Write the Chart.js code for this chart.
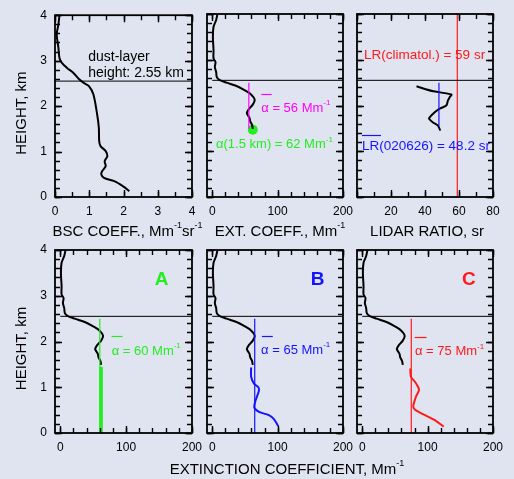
<!DOCTYPE html>
<html>
<head>
<meta charset="utf-8">
<script src="https://cdn.jsdelivr.net/npm/chart.js@4"></script>
<style>
  html, body { margin: 0; padding: 0; background: #e0e4f0; }
  #wrap { position: relative; width: 514px; height: 479px; }
  #wrap canvas { position: absolute; left: 0; top: 0; }
</style>
</head>
<body>
<div id="wrap">
  <canvas id="bsc" width="514" height="479"></canvas>
  <canvas id="ext" width="514" height="479"></canvas>
  <canvas id="lr" width="514" height="479"></canvas>
  <canvas id="caseA" width="514" height="479"></canvas>
  <canvas id="caseB" width="514" height="479"></canvas>
  <canvas id="caseC" width="514" height="479"></canvas>
</div>
<script>
// --- DATA: tick labels ---
const heightTicks = [0, 1, 2, 3, 4];
const bscTicks = [0, 1, 2, 3, 4];
const extTicks = [0, 100, 200];
const lrTicks = [20, 40, 60, 80];

// dust layer top, km
const layerTop = 2.55;

// backscatter coefficient profile (Mm-1 sr-1)
const bscHeight = [4.0, 3.8, 3.58, 3.28, 3.06, 2.95, 2.84, 2.73, 2.6, 2.51, 2.44, 2.26, 1.82, 1.52, 1.23, 1.12, 1.01, 0.9, 0.79, 0.68, 0.57, 0.5, 0.42, 0.35, 0.24, 0.13];
const bscValue = [0.13, 0.1, 0.05, 0.1, 0.13, 0.2, 0.35, 0.54, 0.69, 0.84, 0.99, 1.12, 1.23, 1.28, 1.29, 1.33, 1.48, 1.53, 1.45, 1.48, 1.38, 1.35, 1.43, 1.73, 1.98, 2.17];

// measured extinction profile (Mm-1), down to 1.5 km
const extHeight = [4.0, 3.87, 3.72, 3.5, 3.21, 3.03, 2.95, 2.84, 2.73, 2.62, 2.56, 2.5, 2.42, 2.33, 2.27, 2.2, 2.12, 2.02, 1.9, 1.83, 1.73, 1.66, 1.57, 1.49];
const extValue = [8, 6, 2, 1, 2, 2, 5, 4, 6, 7, 11, 22, 38, 50, 57, 62, 65, 62, 55, 53, 57, 58, 61, 62];

// lidar ratio profile (sr)
const lrHeight = [2.42, 2.31, 2.24, 2.18, 2.11, 2.0, 1.93, 1.85, 1.74, 1.71, 1.63, 1.56, 1.45];
const lrValue = [35, 45, 55.5, 54.5, 53.5, 52.5, 48.6, 45.7, 42.7, 42.4, 44.7, 47.6, 49];

// extrapolated extinction below 1.5 km, case B and case C (Mm-1)
const caseBHeight = [1.43, 1.23, 1.08, 1.0, 0.93, 0.82, 0.72, 0.61, 0.55, 0.46, 0.39, 0.31, 0.15];
const caseBValue = [59.5, 59.5, 64, 70.5, 71.5, 69, 66.5, 64.5, 64.5, 71.5, 86.5, 94, 101];
const caseCHeight = [1.41, 1.23, 1.12, 1.0, 0.93, 0.82, 0.68, 0.57, 0.5, 0.39, 0.28, 0.14];
const caseCValue = [73.5, 74.5, 80.6, 85.7, 86.7, 83, 79.6, 78, 81.6, 96, 111, 124.5];

// layer means and reference values
const alphaAt15 = 62;       // Mm-1 at 1.5 km
const meanAlphaTop = 56;
const meanAlphaA = 60;
const meanAlphaB = 65;
const meanAlphaC = 75;
const lrClimatol = 59;
const lrMeasured = 48.2;

const FONT = '"Liberation Sans", Arial, Helvetica, sans-serif';
const GREEN = '#22ee22', BLUE = '#1414ff', RED = '#ff1a1a', MAGENTA = '#ff00ff';

// --- helpers ---
function drawRich(ctx, x, y, parts, size, color, align, weight) {
  const sup = Math.round(size * 0.62);
  const fontOf = p => `${weight || 'normal'} ${p.sup ? sup : size}px ${FONT}`;
  let w = 0;
  parts.forEach(p => { ctx.font = fontOf(p); w += ctx.measureText(p.t).width; });
  let cx = align === 'center' ? x - w / 2 : x;
  ctx.fillStyle = color;
  ctx.textBaseline = 'middle';
  ctx.textAlign = 'left';
  parts.forEach(p => {
    ctx.font = fontOf(p);
    ctx.fillText(p.t, cx, p.sup ? y - size * 0.4 : y);
    cx += ctx.measureText(p.t).width;
  });
}

function curve(xs, ys, color, width) {
  return {
    data: xs.map((v, i) => ({ x: v, y: ys[i] })),
    borderColor: color, borderWidth: width,
    pointRadius: 0, showLine: true, tension: 0.3, fill: false
  };
}
function straight(xs, ys, color, width) {
  const d = curve(xs, ys, color, width);
  d.tension = 0;
  return d;
}

// tick spacing per panel (major, minor), looked up by canvas id
const tickSteps = {
  bsc: [1, 0.5], ext: [100, 20], lr: [20, 10],
  caseA: [100, 20], caseB: [100, 20], caseC: [100, 20]
};

// inward tick marks on all four sides + frame
const frameTicks = {
  id: 'frameTicks',
  afterDraw(chart) {
    const { ctx, chartArea: a, scales: { x, y } } = chart;
    const [xMajor, xMinor] = tickSteps[chart.canvas.id];
    ctx.save();
    ctx.strokeStyle = '#000';
    ctx.lineWidth = 1.4;
    const mark = (axis, step, len) => {
      const i0 = Math.ceil(axis.min / step - 1e-6), i1 = Math.floor(axis.max / step + 1e-6);
      for (let i = i0; i <= i1; i++) {
        const p = Math.round(axis.getPixelForValue(i * step)) + 0.5;
        ctx.beginPath();
        if (axis === x) {
          ctx.moveTo(p, a.bottom); ctx.lineTo(p, a.bottom - len);
          ctx.moveTo(p, a.top); ctx.lineTo(p, a.top + len);
        } else {
          ctx.moveTo(a.left, p); ctx.lineTo(a.left + len, p);
          ctx.moveTo(a.right, p); ctx.lineTo(a.right - len, p);
        }
        ctx.stroke();
      }
    };
    mark(x, xMinor, 5); mark(x, xMajor, 7);
    mark(y, 0.2, 5); mark(y, 1, 7);
    ctx.lineWidth = 1.8;
    ctx.strokeRect(a.left, a.top, a.width, a.height);
    ctx.restore();
  }
};

// text notes placed in data units, titles relative to the plot frame
const notes = {
  id: 'notes',
  afterDraw(chart, args, o) {
    const { ctx, chartArea: a, scales: { x, y } } = chart;
    ctx.save();
    (o.bars || []).forEach(b => {
      ctx.strokeStyle = b.color; ctx.lineWidth = 1.2;
      const py = Math.round(y.getPixelForValue(b.y)) + 0.5;
      ctx.beginPath();
      ctx.moveTo(x.getPixelForValue(b.x1), py);
      ctx.lineTo(x.getPixelForValue(b.x2), py);
      ctx.stroke();
    });
    (o.texts || []).forEach(t => {
      drawRich(ctx, x.getPixelForValue(t.x), y.getPixelForValue(t.y), t.parts, t.size || 13, t.color || '#000', t.align, t.weight);
    });
    (o.titles || []).forEach(t => {
      const cx = (a.left + a.right) / 2 + (t.dx || 0);
      if (t.vertical) {
        ctx.save();
        ctx.translate(22, (a.top + a.bottom) / 2 + 7);
        ctx.rotate(-Math.PI / 2);
        drawRich(ctx, 0, 0, t.parts, 15, '#000', 'center');
        ctx.restore();
      } else {
        drawRich(ctx, cx, a.bottom + t.dy, t.parts, 15, '#000', 'center');
      }
    });
    ctx.restore();
  }
};

function makePanel(id, p) {
  const [L, T, R, B] = p.area;
  const yW = p.yLabels ? 30 : 0, xH = 20;
  return new Chart(document.getElementById(id), {
    type: 'scatter',
    data: { datasets: p.datasets },
    options: {
      responsive: false, animation: false, devicePixelRatio: 1,
      layout: { padding: { left: L - yW, top: T, right: 514 - R, bottom: 479 - B - xH } },
      scales: {
        x: {
          type: 'linear', min: p.xRange[0], max: p.xRange[1],
          grid: { display: false, drawTicks: false }, border: { display: false },
          afterBuildTicks: s => { s.ticks = p.xTicks.map(v => ({ value: v })); },
          afterFit: s => { s.height = xH; },
          ticks: { padding: 7, color: '#000', font: { family: FONT, size: 12 }, maxRotation: 0, autoSkip: false }
        },
        y: {
          type: 'linear', min: 0, max: 4, display: !!p.yLabels,
          grid: { display: false, drawTicks: false }, border: { display: false },
          afterBuildTicks: s => { s.ticks = heightTicks.map(v => ({ value: v })); },
          afterFit: s => { s.width = yW; },
          ticks: { padding: 8, color: '#000', font: { family: FONT, size: 12 } }
        }
      },
      plugins: {
        legend: { display: false }, tooltip: { enabled: false },
        notes: p.notes
      }
    },
    plugins: [frameTicks, notes]
  });
}

const extRange = [-8, 200];
const sup1 = { t: '-1', sup: true };
const heightTitle = { vertical: true, parts: [{ t: 'HEIGHT, km' }] };

// --- top row ---
makePanel('bsc', {
  area: [55, 14, 192, 197], xRange: [0, 4], xTicks: bscTicks, yLabels: true,
  datasets: [
    straight([0, 4], [layerTop, layerTop], '#000', 1),
    curve(bscValue, bscHeight, '#000', 2)
  ],
  notes: {
    texts: [
      { x: 0.97, y: 3.07, parts: [{ t: 'dust-layer' }], size: 14 },
      { x: 0.97, y: 2.72, parts: [{ t: 'height: 2.55 km' }], size: 14 }
    ],
    titles: [heightTitle, { dy: 35, dx: 4, parts: [{ t: 'BSC COEFF., Mm' }, sup1, { t: 'sr' }, sup1] }]
  }
});

makePanel('ext', {
  area: [207, 14, 343, 197], xRange: extRange, xTicks: extTicks,
  datasets: [
    straight([0, 200], [layerTop, layerTop], '#000', 1),
    straight([meanAlphaTop, meanAlphaTop], [2.5, 1.5], MAGENTA, 1.2),
    curve(extValue, extHeight, '#000', 2),
    { data: [{ x: alphaAt15, y: 1.47 }], pointRadius: 5, backgroundColor: GREEN, borderWidth: 0 }
  ],
  notes: {
    bars: [{ x1: 75, x2: 91, y: 2.25, color: MAGENTA }],
    texts: [
      { x: 75, y: 1.94, parts: [{ t: 'α = 56 Mm' }, sup1], color: MAGENTA },
      { x: 5.8, y: 1.14, parts: [{ t: 'α(1.5 km) = 62 Mm' }, sup1], color: GREEN }
    ],
    titles: [{ dy: 35, dx: 5, parts: [{ t: 'EXT. COEFF., Mm' }, sup1] }]
  }
});

makePanel('lr', {
  area: [357, 14, 493, 197], xRange: [0, 80], xTicks: lrTicks,
  datasets: [
    straight([0, 80], [layerTop, layerTop], '#000', 1),
    straight([lrClimatol, lrClimatol], [0, 4], RED, 1.2),
    straight([lrMeasured, lrMeasured], [2.5, 1.55], BLUE, 1.2),
    curve(lrValue, lrHeight, '#000', 2)
  ],
  notes: {
    bars: [{ x1: 2.9, x2: 14.1, y: 1.355, color: BLUE }],
    texts: [
      { x: 4.1, y: 3.1, parts: [{ t: 'LR(climatol.) = 59 sr' }], color: RED, size: 13.5 },
      { x: 2.9, y: 1.1, parts: [{ t: 'LR(020626) = 48.2 sr' }], color: BLUE, size: 13.5 }
    ],
    titles: [{ dy: 35, dx: 2, parts: [{ t: 'LIDAR RATIO, sr' }] }]
  }
});

// --- bottom row ---
makePanel('caseA', {
  area: [55, 250, 192, 433], xRange: extRange, xTicks: extTicks, yLabels: true,
  datasets: [
    straight([0, 200], [layerTop, layerTop], '#000', 1),
    straight([meanAlphaA, meanAlphaA], [2.5, 0], GREEN, 1.2),
    straight([alphaAt15, alphaAt15], [1.45, 0], GREEN, 3.5),
    curve(extValue, extHeight, '#000', 2)
  ],
  notes: {
    bars: [{ x1: 77.8, x2: 94.5, y: 2.12, color: GREEN }],
    texts: [
      { x: 154, y: 3.35, parts: [{ t: 'A' }], color: GREEN, size: 19, weight: 'bold', align: 'center' },
      { x: 78, y: 1.79, parts: [{ t: 'α = 60 Mm' }, sup1], color: GREEN }
    ],
    titles: [heightTitle]
  }
});

makePanel('caseB', {
  area: [207, 250, 343, 433], xRange: extRange, xTicks: extTicks,
  datasets: [
    straight([0, 200], [layerTop, layerTop], '#000', 1),
    straight([meanAlphaB, meanAlphaB], [2.5, 0], BLUE, 1.2),
    curve(extValue, extHeight, '#000', 2),
    curve(caseBValue, caseBHeight, BLUE, 2)
  ],
  notes: {
    bars: [{ x1: 76, x2: 92.6, y: 2.12, color: BLUE }],
    texts: [
      { x: 161, y: 3.36, parts: [{ t: 'B' }], color: BLUE, size: 19, weight: 'bold', align: 'center' },
      { x: 74.7, y: 1.81, parts: [{ t: 'α = 65 Mm' }, sup1], color: BLUE }
    ],
    titles: [{ dy: 37, dx: 12, parts: [{ t: 'EXTINCTION COEFFICIENT, Mm' }, sup1] }]
  }
});

makePanel('caseC', {
  area: [357, 250, 493, 433], xRange: extRange, xTicks: extTicks,
  datasets: [
    straight([0, 200], [layerTop, layerTop], '#000', 1),
    straight([meanAlphaC, meanAlphaC], [2.5, 0], RED, 1.2),
    curve(extValue, extHeight, '#000', 2),
    curve(caseCValue, caseCHeight, RED, 2)
  ],
  notes: {
    bars: [{ x1: 80.3, x2: 98.5, y: 2.09, color: RED }],
    texts: [
      { x: 163, y: 3.36, parts: [{ t: 'C' }], color: RED, size: 19, weight: 'bold', align: 'center' },
      { x: 80.7, y: 1.78, parts: [{ t: 'α = 75 Mm' }, sup1], color: RED }
    ]
  }
});
</script>
</body>
</html>
